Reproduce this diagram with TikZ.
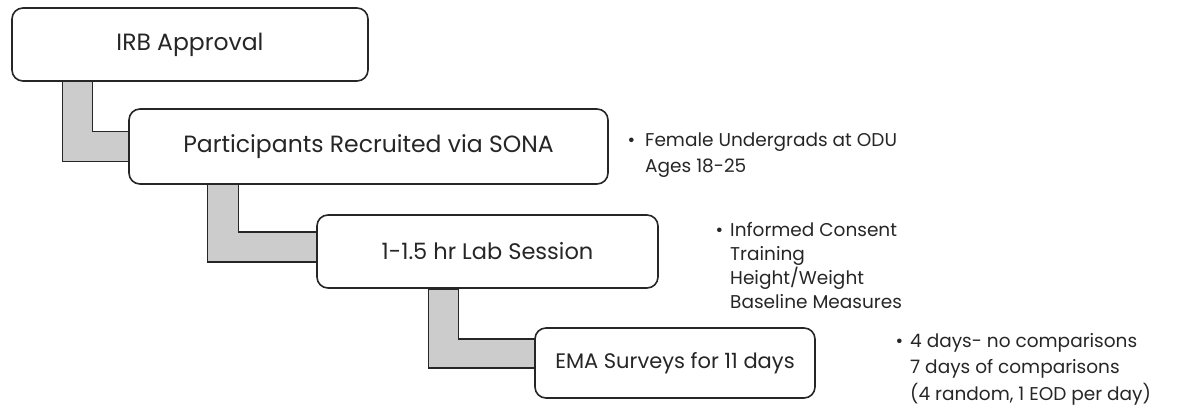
\documentclass[tikz,border=0pt]{standalone}
\usepackage{fontspec}
\setmainfont{Poppins}
\usetikzlibrary{backgrounds}

\begin{document}
\begin{tikzpicture}[x=1pt,y=1pt,
        stage/.style={draw=black!85, line width=1.6pt, rounded corners=11pt, fill=white,
            text=black!85, font=\fontsize{23.5}{27}\selectfont},
        link/.style={draw=black!85, line width=1.4pt, fill=black!20},
        notes/.style={anchor=base west, align=left, inner sep=0pt, text=black!85,
            font=\fontsize{18.5}{26}\selectfont}]
        \useasboundingbox (0,0) rectangle (1188,410);
        % stages
        \node[stage, minimum width=356, minimum height=73] (irb) at (190,365.5) {IRB Approval};
        \node[stage, minimum width=479, minimum height=75] (sona) at (368.5,263.5) {Participants Recruited via SONA};
        \node[stage, minimum width=341, minimum height=73, font=\fontsize{22.5}{26}\selectfont] (lab) at (487.5,158.5) {1-1.5 hr Lab Session};
        \node[stage, minimum width=280, minimum height=70, font=\fontsize{21}{24}\selectfont] (ema) at (675,47) {EMA Surveys for 11 days};
        % elbow links
        \begin{scope}[on background layer]
        \draw[link] ([xshift=51]irb.south west) |- ([yshift=-15]sona.west)
            -- ([yshift=15]sona.west) -| ([xshift=81]irb.south west) -- cycle;
        \draw[link] ([xshift=79]sona.south west) |- ([yshift=-10.5]lab.west)
            -- ([yshift=19.5]lab.west) -| ([xshift=110]sona.south west) -- cycle;
        \draw[link] ([xshift=112]lab.south west) |- ([yshift=-5]ema.west)
            -- ([yshift=24]ema.west) -| ([xshift=142]lab.south west) -- cycle;
        \end{scope}
        % notes (base = last line)
        \node[notes] (sonanote) at (645,237) {\llap{\textbullet\hspace{10pt}}Female Undergrads at ODU\\Ages 18-25};
        \node[notes, font=\fontsize{18.5}{24}\selectfont] (labnote) at (730,102) {\llap{\textbullet\hspace{7pt}}Informed Consent\\Training\\Height/Weight\\Baseline Measures};
        \node[notes, font=\fontsize{18.5}{26.5}\selectfont] (emanote) at (910,10) {\llap{\textbullet\hspace{7pt}}4 days- no comparisons\\7 days of comparisons\\(4 random, 1 EOD per day)};
\end{tikzpicture}
\end{document}
